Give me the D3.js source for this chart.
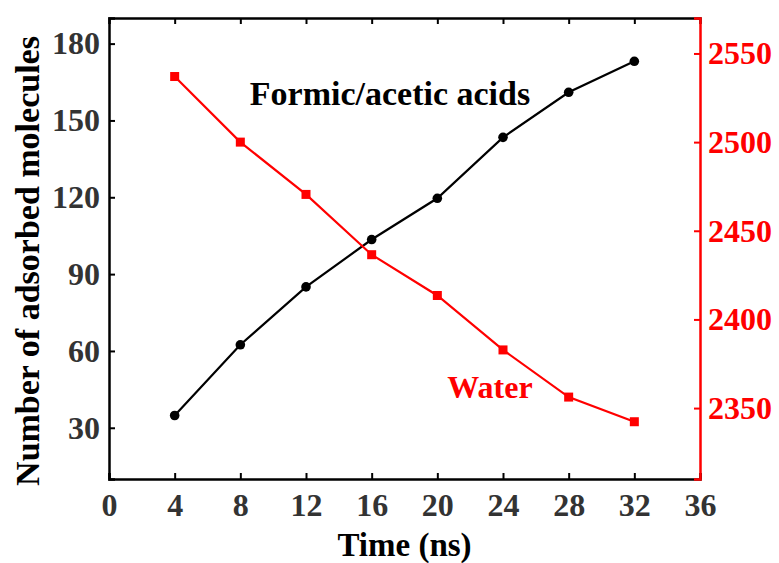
<!DOCTYPE html>
<html>
<head>
<meta charset="utf-8">
<script src="https://cdn.jsdelivr.net/npm/d3@7"></script>
<style>
  body { margin: 0; background: #fff; }
  svg text { font-family: "Liberation Serif", "Times New Roman", Times, "DejaVu Serif", serif !important; font-weight: bold; }
</style>
</head>
<body>
<div id="chart-area"></div>
<script>
// Adsorbed molecules vs time
var times = [4, 8, 12, 16, 20, 24, 28, 32];
var acids = [34.8, 62.4, 85.0, 103.5, 119.6, 143.4, 161.0, 173.1];
var water = [2537, 2500, 2470.5, 2436.5, 2413.5, 2382.8, 2356.2, 2342.3];
var xTicks = [0, 4, 8, 12, 16, 20, 24, 28, 32, 36];
var leftTicks = [30, 60, 90, 120, 150, 180];
var rightTicks = [2350, 2400, 2450, 2500, 2550];

var margin = { left: 109, right: 79, top: 18, bottom: 84 };
var width = 779 - margin.left - margin.right,
    height = 563 - margin.top - margin.bottom;

var svg = d3.select("#chart-area").append("svg")
    .attr("width", 779)
    .attr("height", 563);

var g = svg.append("g").attr("transform", "translate(" + margin.left + ", " + margin.top + ")");

var x = d3.scaleLinear().domain([0, 36]).range([0, width]);
var yL = d3.scaleLinear().domain([10, 190]).range([height, 0]);
var yR = d3.scaleLinear().domain([2310, 2570]).range([height, 0]);

var red = "#ff0000";
var grey = "#333333";
var fmt = d3.format("d");

// bottom axis
var xAxis = g.append("g")
    .attr("transform", "translate(0, " + height + ")")
    .call(d3.axisBottom(x).tickValues(xTicks).tickSize(-6).tickPadding(14).tickFormat(fmt));
xAxis.selectAll("text").attr("font-size", "32px").attr("fill", grey);

// top axis (ticks only)
g.append("g")
    .call(d3.axisTop(x).tickValues(xTicks.slice(1, -1)).tickSize(-6).tickFormat(""));

// left axis
var leftAxis = g.append("g")
    .call(d3.axisLeft(yL).tickValues(leftTicks).tickSize(-6).tickPadding(9).tickFormat(fmt));
leftAxis.selectAll("text").attr("font-size", "32px").attr("fill", grey);

// right axis
var rightAxis = g.append("g")
    .attr("transform", "translate(" + width + ", 0)")
    .call(d3.axisRight(yR).tickValues(rightTicks).tickSize(-6).tickPadding(8).tickFormat(fmt));
rightAxis.selectAll("text").attr("font-size", "32px").attr("fill", red);
rightAxis.selectAll("line, path").attr("stroke", red);

g.selectAll(".domain").attr("stroke-width", 2.5);
g.selectAll(".tick line").attr("stroke-width", 2);

// lines
var acidLine = d3.line()
    .x(function(d, i) { return x(times[i]); })
    .y(function(d) { return yL(d); });
var waterLine = d3.line()
    .x(function(d, i) { return x(times[i]); })
    .y(function(d) { return yR(d); });

g.append("path").datum(acids)
    .attr("d", acidLine).attr("fill", "none")
    .attr("stroke", "black").attr("stroke-width", 2.2);
g.append("path").datum(water)
    .attr("d", waterLine).attr("fill", "none")
    .attr("stroke", red).attr("stroke-width", 2.2);

g.selectAll("circle.acid").data(acids).enter().append("circle")
    .attr("class", "acid")
    .attr("cx", function(d, i) { return x(times[i]); })
    .attr("cy", function(d) { return yL(d); })
    .attr("r", 4.8)
    .attr("fill", "black");

g.selectAll("rect.water").data(water).enter().append("rect")
    .attr("class", "water")
    .attr("x", function(d, i) { return x(times[i]) - 4.5; })
    .attr("y", function(d) { return yR(d) - 4.5; })
    .attr("width", 9)
    .attr("height", 9)
    .attr("fill", red);

// annotations
g.append("text")
    .attr("x", 390 - margin.left)
    .attr("y", 105 - margin.top)
    .attr("text-anchor", "middle")
    .attr("font-size", "34px")
    .style("fill", "black")
    .text("Formic/acetic acids");

g.append("text")
    .attr("x", 490 - margin.left)
    .attr("y", 398 - margin.top)
    .attr("text-anchor", "middle")
    .attr("font-size", "32px")
    .style("fill", red)
    .text("Water");

// X Label
g.append("text")
    .attr("x", x(18))
    .attr("y", 556 - margin.top)
    .attr("font-size", "33px")
    .attr("text-anchor", "middle")
    .style("fill", "black")
    .text("Time (ns)");

// Y Label
g.append("text")
    .attr("x", -(261 - margin.top))
    .attr("y", 39 - margin.left)
    .attr("font-size", "34px")
    .attr("text-anchor", "middle")
    .style("fill", "black")
    .attr("transform", "rotate(-90)")
    .text("Number of adsorbed molecules");
</script>
</body>
</html>
